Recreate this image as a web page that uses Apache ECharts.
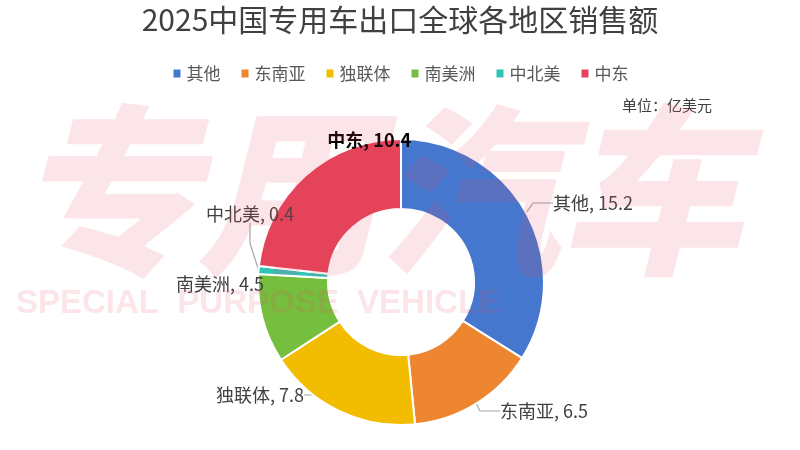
<!DOCTYPE html>
<html>
<head>
<meta charset="UTF-8">
<title>2025中国专用车出口全球各地区销售额</title>
<script src="https://cdn.jsdelivr.net/npm/echarts@6/dist/echarts.min.js"></script>
<style>
  html, body { margin: 0; padding: 0; background: #fff; }
  #main { width: 800px; height: 450px; }
</style>
</head>
<body>
<div id="main"></div>
<script type="text/javascript">
// 数据
var regions = ['其他', '东南亚', '独联体', '南美洲', '中北美', '中东'];
var sales = [15.2, 6.5, 7.8, 4.5, 0.4, 10.4];
var colors = ['#4577CF', '#EE8530', '#F2BC00', '#76BE3E', '#2EC4B6', '#E5435A'];

var chart = echarts.init(document.getElementById('main'));
var font = '"Noto Sans CJK SC", "Noto Sans", sans-serif';

var pieData = regions.map(function (name, i) {
  var item = { name: name, value: sales[i], itemStyle: { color: colors[i] } };
  if (name === '中东') {
    item.label = { fontWeight: 'bold', color: '#000' };
    item.labelLine = { show: false };
  }
  return item;
});

// 标签位置（手工摆放，和原图一致）
var labelPos = [
  [553, 203, 'left'],
  [500, 411, 'left'],
  [304, 395, 'right'],
  [264, 284, 'right'],
  [294, 214, 'right'],
  [411, 140, 'right']
];

var option = {
  backgroundColor: '#fff',
  title: {
    text: '2025中国专用车出口全球各地区销售额',
    left: 'center',
    top: 0,
    textStyle: { fontFamily: font, fontSize: 30, fontWeight: 'normal', color: '#404040' }
  },
  legend: {
    top: 60,
    left: 'center',
    icon: 'rect',
    itemWidth: 9,
    itemHeight: 10,
    itemGap: 19,
    textStyle: { fontFamily: font, fontSize: 17, color: '#595959' },
    data: regions
  },
  graphic: [
    {
      type: 'text',
      right: 88,
      top: 98,
      style: { text: '单位：亿美元', font: '15px ' + font, fill: '#404040' }
    },
    {
      type: 'text',
      left: 14,
      top: 100,
      z: 100,
      silent: true,
      style: {
        text: '专用汽车',
        font: 'italic 900 182px ' + font,
        fill: 'rgba(228, 70, 95, 0.14)'
      }
    },
    {
      type: 'text',
      left: 16,
      top: 287,
      z: 100,
      silent: true,
      style: {
        text: 'SPECIAL  PURPOSE  VEHICLE',
        font: 'bold 33px "Liberation Sans", Arial, sans-serif',
        fill: 'rgba(228, 70, 95, 0.14)'
      }
    }
  ],
  series: [{
    type: 'pie',
    center: [401, 282],
    radius: [73, 143],
    startAngle: 90,
    clockwise: true,
    avoidLabelOverlap: false,
    itemStyle: { borderColor: '#fff', borderWidth: 2 },
    label: {
      show: true,
      formatter: '{b}, {c}',
      fontFamily: font,
      fontSize: 18,
      color: '#404040'
    },
    labelLine: {
      show: true,
      length: 10,
      length2: 20,
      lineStyle: { color: '#a6a6a6', width: 1.2 }
    },
    labelLayout: function (params) {
      var p = labelPos[params.dataIndex];
      return { x: p[0], y: p[1], align: p[2], verticalAlign: 'middle' };
    },
    data: pieData
  }]
};

chart.setOption(option);
</script>
</body>
</html>
